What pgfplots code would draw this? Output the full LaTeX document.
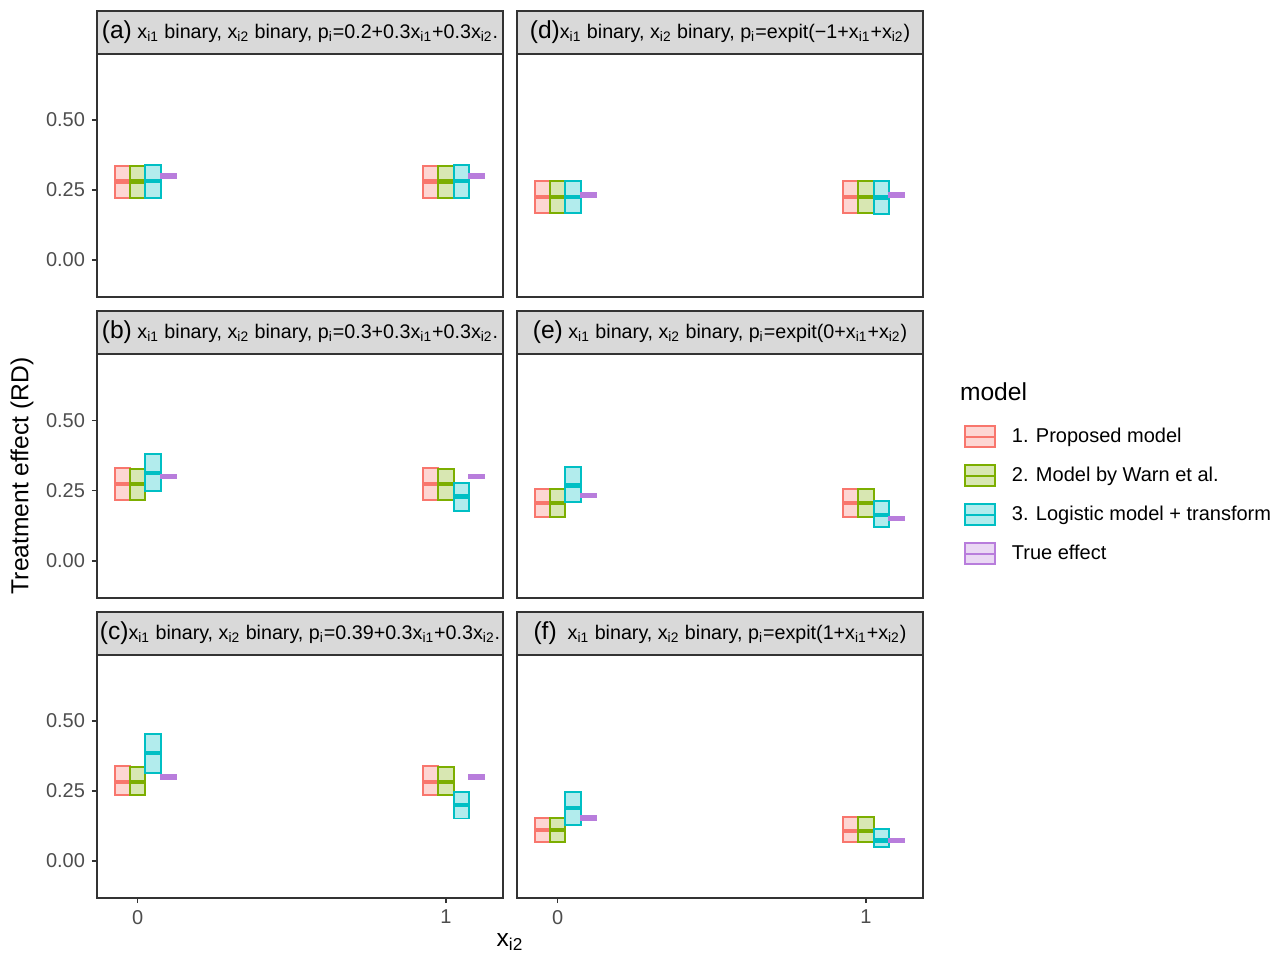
\documentclass[border=0pt]{standalone}
\usepackage{fontspec}
\setmainfont{Liberation Sans}
\usepackage{pgfplots}
\pgfplotsset{compat=1.18}
\usepgfplotslibrary{statistics}
\definecolor{cR}{HTML}{F8766D}
\definecolor{cG}{HTML}{7CAE00}
\definecolor{cC}{HTML}{00BFC4}
\definecolor{cP}{HTML}{B87DDC}
\colorlet{fR}{cR!30!white}
\colorlet{fG}{cG!30!white}
\colorlet{fC}{cC!30!white}
\colorlet{fP}{cP!30!white}
\definecolor{g20}{HTML}{333333}
\definecolor{g30}{HTML}{4D4D4D}
\definecolor{g85}{HTML}{D9D9D9}
\newcommand{\s}[1]{\textsubscript{#1}}
\newcommand{\bx}[5]{\addplot[forget plot, draw=c#5, fill=f#5, line width=0.95pt,
  boxplot prepared={draw direction=y, draw position=#1, lower whisker=#2, lower quartile=#2,
  median=#3, upper quartile=#4, upper whisker=#4, box extend=0.05}] coordinates {};}
\pgfplotsset{
  boxplot/draw/lower whisker/.code={},
  boxplot/draw/upper whisker/.code={},
  boxplot/draw/median/.code={\draw[line width=2.2pt] (boxplot box cs:\pgfplotsboxplotvalue{median},0) -- (boxplot box cs:\pgfplotsboxplotvalue{median},1);},
  boxleg/.style={line width=0.95pt, legend image code/.code={\draw[##1] (0pt,-5.25pt) rectangle (15pt,5.25pt); \draw[##1] (0pt,0pt) -- (15pt,0pt);}},
  panel/.style={scale only axis, width=203pt, anchor=south west,
    xmin=-0.132, xmax=1.185, ymin=-0.132, ymax=0.736,
    axis line style={draw=g20, line width=1pt},
    ytick={0,0.25,0.5}, xtick={0,1}, tick pos=left, tick align=outside,
    major tick length=2.5pt, tick style={draw=g20, line width=0.8pt},
    yticklabel style={/pgf/number format/.cd, fixed, fixed zerofill, precision=2},
    /pgf/number format/assume math mode=true,
    ticklabel style={font=\fontsize{10}{12}\selectfont, text=g30},
    every axis title/.style={at={(0.5,1)}, anchor=south, fill=g85, draw=g20,
      line width=1pt, minimum width=203pt, minimum height=21.5pt, inner sep=0pt,
      outer sep=0pt, font=\fontsize{9.85}{11}\selectfont},
    clip=false},
  nox/.style={xtick=\empty},
  noy/.style={ytick=\empty},
}
\newcommand{\lab}[1]{{\fontsize{12.3}{14}\selectfont #1}}
\begin{document}
\begin{tikzpicture}
\path[use as bounding box] (0,0) rectangle (640pt,477pt);
% (a)
\begin{axis}[panel, nox, at={(48.5pt,328.5pt)}, height=121.5pt,
  title={\lab{(a)} x\s{i1} binary, x\s{i2} binary, p\s{i}=0.2+0.3x\s{i1}+0.3x\s{i2}.}]
\bx{-0.05}{0.222}{0.280}{0.336}{R}
\bx{0}{0.222}{0.280}{0.336}{G}
\bx{0.05}{0.223}{0.282}{0.341}{C}
\bx{0.10}{0.294}{0.30}{0.306}{P}
\bx{0.95}{0.222}{0.280}{0.336}{R}
\bx{1}{0.222}{0.280}{0.336}{G}
\bx{1.05}{0.223}{0.282}{0.341}{C}
\bx{1.10}{0.294}{0.30}{0.306}{P}
\end{axis}
% (d)
\begin{axis}[panel, nox, noy, at={(258.5pt,328.5pt)}, height=121.5pt,
  title={\lab{(d)}x\s{i1} binary, x\s{i2} binary, p\s{i}=expit(−1+x\s{i1}+x\s{i2})}]
\bx{-0.05}{0.168}{0.225}{0.282}{R}
\bx{0}{0.168}{0.225}{0.282}{G}
\bx{0.05}{0.168}{0.225}{0.282}{C}
\bx{0.10}{0.226}{0.232}{0.238}{P}
\bx{0.95}{0.168}{0.225}{0.282}{R}
\bx{1}{0.168}{0.225}{0.282}{G}
\bx{1.05}{0.166}{0.224}{0.282}{C}
\bx{1.10}{0.226}{0.232}{0.238}{P}
\end{axis}
% (b)
\begin{axis}[panel, nox, at={(48.5pt,178pt)}, height=122pt,
  title={\lab{(b)} x\s{i1} binary, x\s{i2} binary, p\s{i}=0.3+0.3x\s{i1}+0.3x\s{i2}.}]
\bx{-0.05}{0.216}{0.273}{0.330}{R}
\bx{0}{0.218}{0.274}{0.328}{G}
\bx{0.05}{0.248}{0.312}{0.379}{C}
\bx{0.10}{0.294}{0.30}{0.306}{P}
\bx{0.95}{0.216}{0.273}{0.330}{R}
\bx{1}{0.218}{0.274}{0.328}{G}
\bx{1.05}{0.177}{0.229}{0.277}{C}
\bx{1.10}{0.294}{0.30}{0.306}{P}
\end{axis}
% (e)
\begin{axis}[panel, nox, noy, at={(258.5pt,178pt)}, height=122pt,
  title={\lab{(e)} x\s{i1} binary, x\s{i2} binary, p\s{i}=expit(0+x\s{i1}+x\s{i2})},
  legend style={at={(1.10,0.714)}, anchor=north west, draw=none, fill=none,
    font=\fontsize{10}{12}\selectfont, inner sep=0pt, row sep=6.75pt, column sep=6pt},
  legend cell align=left]
\bx{-0.05}{0.157}{0.207}{0.257}{R}
\bx{0}{0.155}{0.205}{0.257}{G}
\bx{0.05}{0.208}{0.268}{0.334}{C}
\bx{0.10}{0.226}{0.232}{0.238}{P}
\bx{0.95}{0.155}{0.205}{0.257}{R}
\bx{1}{0.155}{0.205}{0.257}{G}
\bx{1.05}{0.121}{0.163}{0.212}{C}
\bx{1.10}{0.145}{0.151}{0.157}{P}
\addlegendimage{boxleg, draw=cR, fill=fR}
\addlegendentry{1. Proposed model}
\addlegendimage{boxleg, draw=cG, fill=fG}
\addlegendentry{2. Model by Warn et al.}
\addlegendimage{boxleg, draw=cC, fill=fC}
\addlegendentry{3. Logistic model + transform}
\addlegendimage{boxleg, draw=cP, fill=fP}
\addlegendentry{True effect}
\end{axis}
% (c)
\begin{axis}[panel, at={(48.5pt,28pt)}, height=121.5pt,
  title={\lab{(c)}x\s{i1} binary, x\s{i2} binary, p\s{i}=0.39+0.3x\s{i1}+0.3x\s{i2}.}]
\bx{-0.05}{0.236}{0.282}{0.340}{R}
\bx{0}{0.236}{0.283}{0.337}{G}
\bx{0.05}{0.315}{0.387}{0.454}{C}
\bx{0.10}{0.294}{0.30}{0.306}{P}
\bx{0.95}{0.236}{0.282}{0.340}{R}
\bx{1}{0.236}{0.283}{0.337}{G}
\bx{1.05}{0.152}{0.200}{0.247}{C}
\bx{1.10}{0.294}{0.30}{0.306}{P}
\end{axis}
% (f)
\begin{axis}[panel, noy, at={(258.5pt,28pt)}, height=121.5pt,
  title={\lab{(f)} \ x\s{i1} binary, x\s{i2} binary, p\s{i}=expit(1+x\s{i1}+x\s{i2})}]
\bx{-0.05}{0.068}{0.110}{0.154}{R}
\bx{0}{0.068}{0.110}{0.154}{G}
\bx{0.05}{0.129}{0.189}{0.246}{C}
\bx{0.10}{0.148}{0.154}{0.160}{P}
\bx{0.95}{0.067}{0.108}{0.156}{R}
\bx{1}{0.067}{0.108}{0.156}{G}
\bx{1.05}{0.049}{0.073}{0.113}{C}
\bx{1.10}{0.068}{0.074}{0.080}{P}
\end{axis}
\node[anchor=west, font=\fontsize{12.3}{14}\selectfont] at (476.5pt,281pt) {model};
\node[font=\fontsize{12.3}{14}\selectfont] at (255pt,6pt) {x\s{i2}};
\node[rotate=90, font=\fontsize{12.3}{14}\selectfont] at (11pt,239pt) {Treatment effect (RD)};
\end{tikzpicture}
\end{document}
